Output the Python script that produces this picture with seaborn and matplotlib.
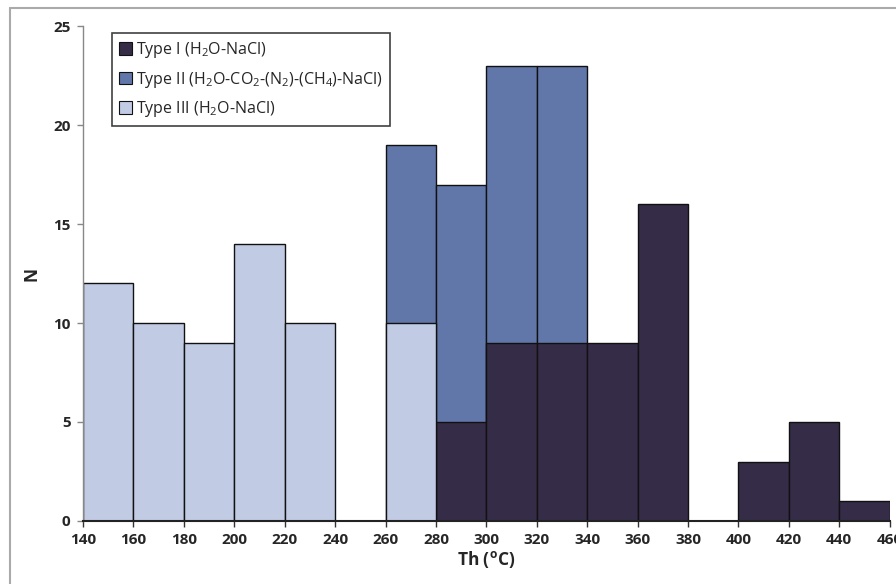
import numpy as np
import pandas as pd
import matplotlib
matplotlib.use("Agg")
import matplotlib.pyplot as plt
import seaborn as sns
from matplotlib.patches import Patch

# Data (bin left edges, counts)
edges = [140, 160, 180, 200, 220, 240, 260, 280, 300, 320, 340, 360, 380, 400, 420, 440, 460]
type1_bins = [280, 300, 320, 340, 360, 400, 420, 440]
type1_counts = [5, 9, 9, 9, 16, 3, 5, 1]
type2_bins = [260, 280, 300, 320]
type2_counts = [19, 17, 23, 23]
type3_bins = [140, 160, 180, 200, 220, 260]
type3_counts = [12, 10, 9, 14, 10, 10]

labels = ["Type I (H$_2$O-NaCl)",
          "Type II (H$_2$O-CO$_2$-(N$_2$)-(CH$_4$)-NaCl)",
          "Type III (H$_2$O-NaCl)"]
colors = ["#352c47", "#6176a9", "#c1cbe4"]

sns.set_style("white")
plt.rcParams['font.family'] = ['Open Sans', 'DejaVu Sans']
plt.rcParams['mathtext.default'] = 'regular'

fig = plt.figure(figsize=(8.96, 5.84), dpi=100)
ax = fig.add_axes([0.0926, 0.108, 0.9004, 0.847])

def draw(bins, counts, color):
    df = pd.DataFrame({"x": np.array(bins) + 10, "w": counts})
    sns.histplot(data=df, x="x", weights="w", bins=edges, color=color,
                 alpha=1, edgecolor="#111111", linewidth=1.0, ax=ax)

draw(type2_bins, type2_counts, colors[1])
draw(type1_bins, type1_counts, colors[0])
draw(type3_bins, type3_counts, colors[2])

ax.set_xlim(140, 460)
ax.set_ylim(0, 25)
ax.set_xticks(range(140, 461, 20))
ax.set_yticks(range(0, 26, 5))
for lab in ax.get_xticklabels() + ax.get_yticklabels():
    lab.set_fontweight("bold")
    lab.set_fontsize(11)
ax.tick_params(axis='x', direction='out', length=4, width=1, color="#333333", bottom=True, pad=5)
ax.tick_params(axis='y', direction='out', length=4, width=1, color="#888888", left=True, pad=5)
for s in ["top", "right"]:
    ax.spines[s].set_visible(False)
ax.spines["left"].set_color("#888888")
ax.spines["left"].set_linewidth(1)
ax.spines["bottom"].set_color("#222222")
ax.spines["bottom"].set_linewidth(1.5)

ax.set_xlabel("Th ($^{o}$C)", fontsize=12.5, fontweight="bold", labelpad=1)
ax.set_ylabel("N", fontsize=12.5, fontweight="bold", labelpad=9)

handles = [Patch(facecolor=c, edgecolor="#111111", linewidth=0.8) for c in colors]
leg = ax.legend(handles, labels, loc="upper left", bbox_to_anchor=(0.026, 1.003),
                frameon=True, fancybox=False, fontsize=11.5, handlelength=0.8,
                handleheight=0.8, handletextpad=0.25, borderpad=0.45, labelspacing=0.6)
leg.get_frame().set_edgecolor("#111111")
leg.get_frame().set_linewidth(1.2)

# outer frame (gray) as in the reference
fig.add_artist(plt.Line2D([10/896, 10/896], [0, 1 - 8/584], transform=fig.transFigure, color="#aaaaaa", lw=1.5))
fig.add_artist(plt.Line2D([10/896, 1], [1 - 8/584, 1 - 8/584], transform=fig.transFigure, color="#aaaaaa", lw=1.5))

fig.savefig("out.png", dpi=100)
